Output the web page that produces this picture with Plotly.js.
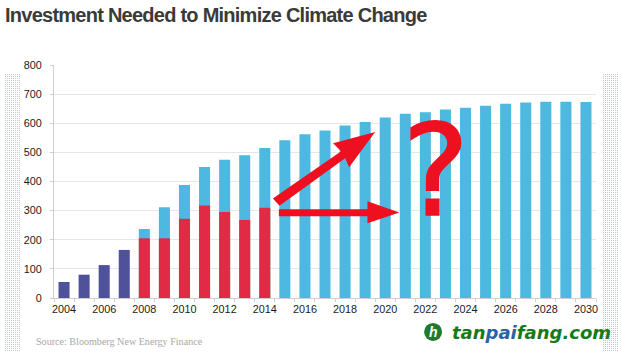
<!DOCTYPE html>
<html><head><meta charset="utf-8">
<script src="https://cdn.plot.ly/plotly-3.0.1.min.js"></script>
<style>
html,body{margin:0;padding:0;background:#fff;width:621px;height:352px;overflow:hidden}
.dots{position:absolute;top:73px;height:279px;width:16px;background-color:#c2c6ce;background-image:linear-gradient(90deg,#fff 1px,transparent 1px),linear-gradient(#fff 1px,transparent 1px);background-size:2px 2px}
#chart{position:absolute;left:0;top:0;width:621px;height:352px}
.annotation[data-index="0"] text{letter-spacing:-0.75px}
.annotation[data-index="2"] text{stroke:#ee1020;stroke-width:1.5px}
</style></head><body>
<div class="dots" style="left:4px"></div><div class="dots" style="left:602px"></div>
<div id="chart"></div>
<script>
const purpleYears=[2004,2005,2006,2007];
const purpleValues=[55,80,113,165];
const redYears=[2008,2009,2010,2011,2012,2013,2014];
const redValues=[205,205,272,318,295,268,310];
const blueYears=[2008,2009,2010,2011,2012,2013,2014,2015,2016,2017,2018,2019,2020,2021,2022,2023,2024,2025,2026,2027,2028,2029,2030];
const blueValues=[237,312,388,450,475,490,515,542,562,575,592,604,620,633,638,647,653,660,667,671,674,674,673];
const yearLabels=[2004,2006,2008,2010,2012,2014,2016,2018,2020,2022,2024,2026,2028,2030];
const boundaries=[];for(let y=2003.5;y<=2030.5;y++)boundaries.push(y);
const W=621,H=352,L=53.7,R=25,T=64.5,B=54;
// overlay arrows, given in page pixels
const arrowUp=[[272.7,198.3],[279.3,205.5],[345,158],[349,167],[375,131.7],[333,143],[341,151]];
const arrowRight=[[278.7,209],[278.7,216],[367.3,216],[367.3,223],[399.3,212.3],[367.3,201],[367.3,209]];
const bar=(x,y,c)=>({type:'bar',x:x,y:y,width:0.55,marker:{color:c,line:{width:0}},hoverinfo:'x+y',showlegend:false});
const traces=[bar(blueYears,blueValues,'#4db9e0'),bar(redYears,redValues,'#e12a45'),bar(purpleYears,purpleValues,'#50519b')];
const sans='"Liberation Sans",Arial,sans-serif';
const pw=W-L-R, ph=H-T-B;
const fx=(x)=>(x-L)/pw, fy=(y)=>1-(y-T)/ph;
function polyPlot(p){return 'M'+p.map(q=>fx(q[0]).toFixed(4)+','+fy(q[1]).toFixed(4)).join('L')+'Z';}
const note=(text,x,y,font,xanchor,yanchor)=>({text:text,xref:'paper',yref:'paper',x:fx(x),y:fy(y),showarrow:false,xanchor:xanchor||'left',yanchor:yanchor||'middle',font:font,align:'left',borderpad:0,borderwidth:0});
const layout={
 width:W,height:H,autosize:false,barmode:'overlay',showlegend:false,
 paper_bgcolor:'rgba(0,0,0,0)',plot_bgcolor:'rgba(0,0,0,0)',
 margin:{l:L,r:R,t:T,b:B,pad:0},
 font:{family:sans,color:'#222',size:11},
 xaxis:{type:'linear',range:[2003.5,2030.5],tickmode:'array',tickvals:yearLabels,ticktext:yearLabels.map(String),ticks:'',
  tickfont:{size:10.8,family:sans,color:'#1a1a1a'},ticklabelstandoff:1,showgrid:false,zeroline:false,showline:true,linecolor:'#cfcfcf',linewidth:1,
  minor:{tickmode:'array',tickvals:boundaries,ticks:'outside',ticklen:3,tickcolor:'#cfcfcf',showgrid:false},fixedrange:true},
 yaxis:{range:[0,800],tickmode:'array',tickvals:[0,100,200,300,400,500,600,700,800],ticks:'outside',ticklen:3,tickcolor:'#cfcfcf',ticklabelstandoff:6,
  tickfont:{size:10.8,family:sans,color:'#1a1a1a'},showgrid:true,gridcolor:'#e6e6e6',gridwidth:1,zeroline:false,showline:true,linecolor:'#cfcfcf',linewidth:1,fixedrange:true},
 shapes:[
  {type:'path',xref:'paper',yref:'paper',path:polyPlot(arrowUp),fillcolor:'#ee1020',line:{width:0}},
  {type:'path',xref:'paper',yref:'paper',path:polyPlot(arrowRight),fillcolor:'#ee1020',line:{width:0}},
  {type:'circle',xref:'paper',yref:'paper',x0:fx(424),x1:fx(442),y0:fy(341),y1:fy(323),fillcolor:'#1f7a2e',line:{width:0}}
 ],
 annotations:[
  note('<b>Investment Needed to Minimize Climate Change</b>',5,14,{family:sans,size:20,color:'#3a3a3a'}),
  note('Source: Bloomberg New Energy Finance',36,342,{family:'"Liberation Serif",serif',size:10.1,color:'#a8a8a8'}),
  note('?',435.5,171,{family:'"DejaVu Sans",sans-serif',size:127,color:'#ee1020'},'center','middle'),
  note('<b><i>h</i></b>',433,332,{family:sans,size:14,color:'#ffffff'},'center','middle'),
  note('<b><i>tan<span style="color:#2a62a8">pai</span>fang.com</i></b>',452,333,{family:'"DejaVu Sans",sans-serif',size:18,color:'#157a1c'})
 ]
};
Plotly.newPlot('chart',traces,layout,{displayModeBar:false,staticPlot:true});
</script></body></html>
